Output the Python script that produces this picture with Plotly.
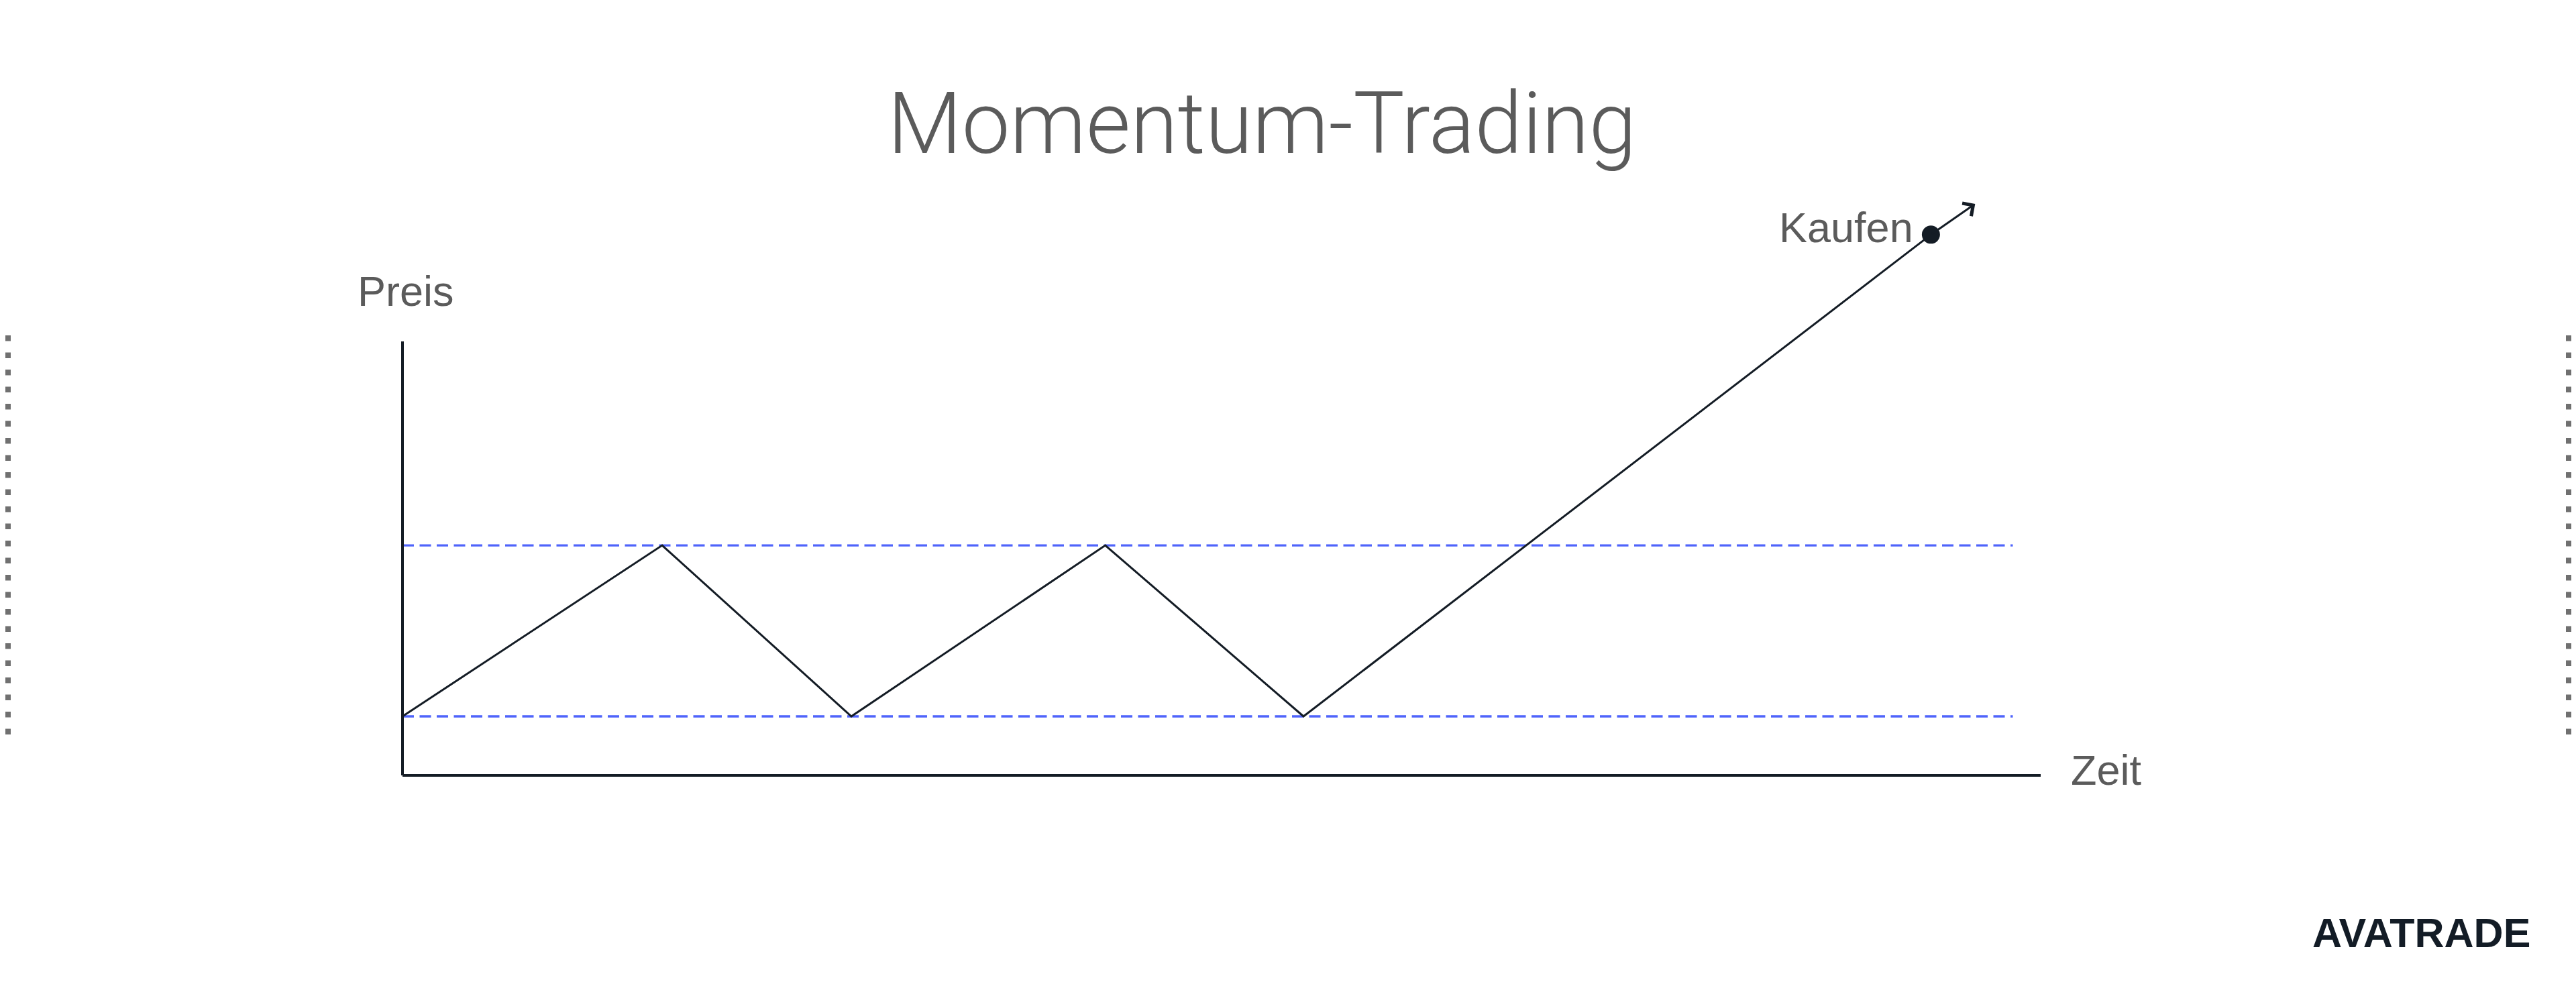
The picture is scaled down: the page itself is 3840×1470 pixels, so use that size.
import plotly.graph_objects as go

# ---- data (time units 0..100 along x-axis, price units 0..100 along y-axis) ----
time_points = [0.0, 15.85, 27.4, 42.9, 55.0, 93.3]
price_points = [13.6, 53.0, 13.6, 53.0, 13.6, 124.6]
buy_time = [93.3]
buy_price = [124.6]
arrow_tip = (96.0, 131.7)
support_level = 13.6
resistance_level = 53.0
level_span = [0.0, 98.3]
axis_end_x = 100.0
axis_end_y = 100.0

title_text = "Momentum-Trading"
y_label = "Preis"
x_label = "Zeit"
buy_label = "Kaufen"
logo_text = "AVATRADE"

W, H = 3840, 1470
# pixel mapping
PX_PER_T = 24.42
PX_PER_P = 6.47
X0_PX, Y0_PX = 600, 1156
x_range = [-X0_PX / PX_PER_T, (W - X0_PX) / PX_PER_T]
y_range = [-(H - Y0_PX) / PX_PER_P, Y0_PX / PX_PER_P]

INK = "#141c25"
GRAY = "#5b5b5b"
BLUE = "#4f64fb"

fig = go.Figure()

# support / resistance dashed levels
for lvl in (resistance_level, support_level):
    fig.add_trace(go.Scatter(
        x=level_span, y=[lvl, lvl], mode="lines",
        line=dict(color=BLUE, width=3.4, dash="17px,8.5px"),
        hoverinfo="skip", showlegend=False))

# price path
fig.add_trace(go.Scatter(
    x=time_points, y=price_points, mode="lines",
    line=dict(color=INK, width=3), hoverinfo="skip", showlegend=False))

# buy dot
fig.add_trace(go.Scatter(
    x=buy_time, y=buy_price, mode="markers",
    marker=dict(color=INK, size=27, line=dict(width=0)),
    hoverinfo="skip", showlegend=False))

shapes = [
    # axes
    dict(type="line", xref="x", yref="y", x0=0, y0=0, x1=0, y1=axis_end_y,
         line=dict(color=INK, width=4)),
    dict(type="line", xref="x", yref="y", x0=0, y0=0, x1=axis_end_x, y1=0,
         line=dict(color=INK, width=4)),
    # dotted side borders
    dict(type="line", xref="paper", yref="paper", x0=12 / W, x1=12 / W,
         y0=1 - 500 / H, y1=1 - 1096 / H,
         line=dict(color="#707070", width=8, dash="8.5px,17px")),
    dict(type="line", xref="paper", yref="paper", x0=3829 / W, x1=3829 / W,
         y0=1 - 500 / H, y1=1 - 1096 / H,
         line=dict(color="#707070", width=8, dash="8.5px,17px")),
]

annotations = [
    # arrow continuing the breakout
    dict(x=arrow_tip[0], y=arrow_tip[1], ax=buy_time[0], ay=buy_price[0],
         xref="x", yref="y", axref="x", ayref="y", text="", showarrow=True,
         arrowhead=4, arrowsize=1.5, arrowwidth=3, arrowcolor=INK),
    dict(x=1881 / W, y=1 - 184 / H, xref="paper", yref="paper", text=title_text,
         showarrow=False, xanchor="center", yanchor="middle",
         font=dict(family="Roboto", size=128, color=GRAY, weight=300)),
    dict(x=(531 - X0_PX) / PX_PER_T, y=(Y0_PX - 434) / PX_PER_P, xref="x", yref="y",
         text=y_label, showarrow=False, xanchor="left", yanchor="middle",
         font=dict(family="Liberation Sans", size=63, color=GRAY)),
    dict(x=(3085 - X0_PX) / PX_PER_T, y=(Y0_PX - 1148) / PX_PER_P, xref="x", yref="y",
         text=x_label, showarrow=False, xanchor="left", yanchor="middle",
         font=dict(family="Liberation Sans", size=63, color=GRAY)),
    dict(x=(2854 - X0_PX) / PX_PER_T, y=(Y0_PX - 339) / PX_PER_P, xref="x", yref="y",
         text=buy_label, showarrow=False, xanchor="right", yanchor="middle",
         font=dict(family="Liberation Sans", size=63, color=GRAY)),
    dict(x=3774 / W, y=1 - 1391 / H, xref="paper", yref="paper",
         text="<b>" + logo_text + "</b>", showarrow=False, xanchor="right", yanchor="middle",
         font=dict(family="Liberation Sans", size=61, color="#131c26")),
]

fig.update_layout(
    width=W, height=H,
    margin=dict(l=0, r=0, t=0, b=0),
    paper_bgcolor="white", plot_bgcolor="white",
    xaxis=dict(range=x_range, visible=False, fixedrange=True),
    yaxis=dict(range=y_range, visible=False, fixedrange=True),
    shapes=shapes, annotations=annotations, showlegend=False,
)

fig.write_html("out.html", config={"displayModeBar": False},
               post_script="document.body.style.margin='0';")
